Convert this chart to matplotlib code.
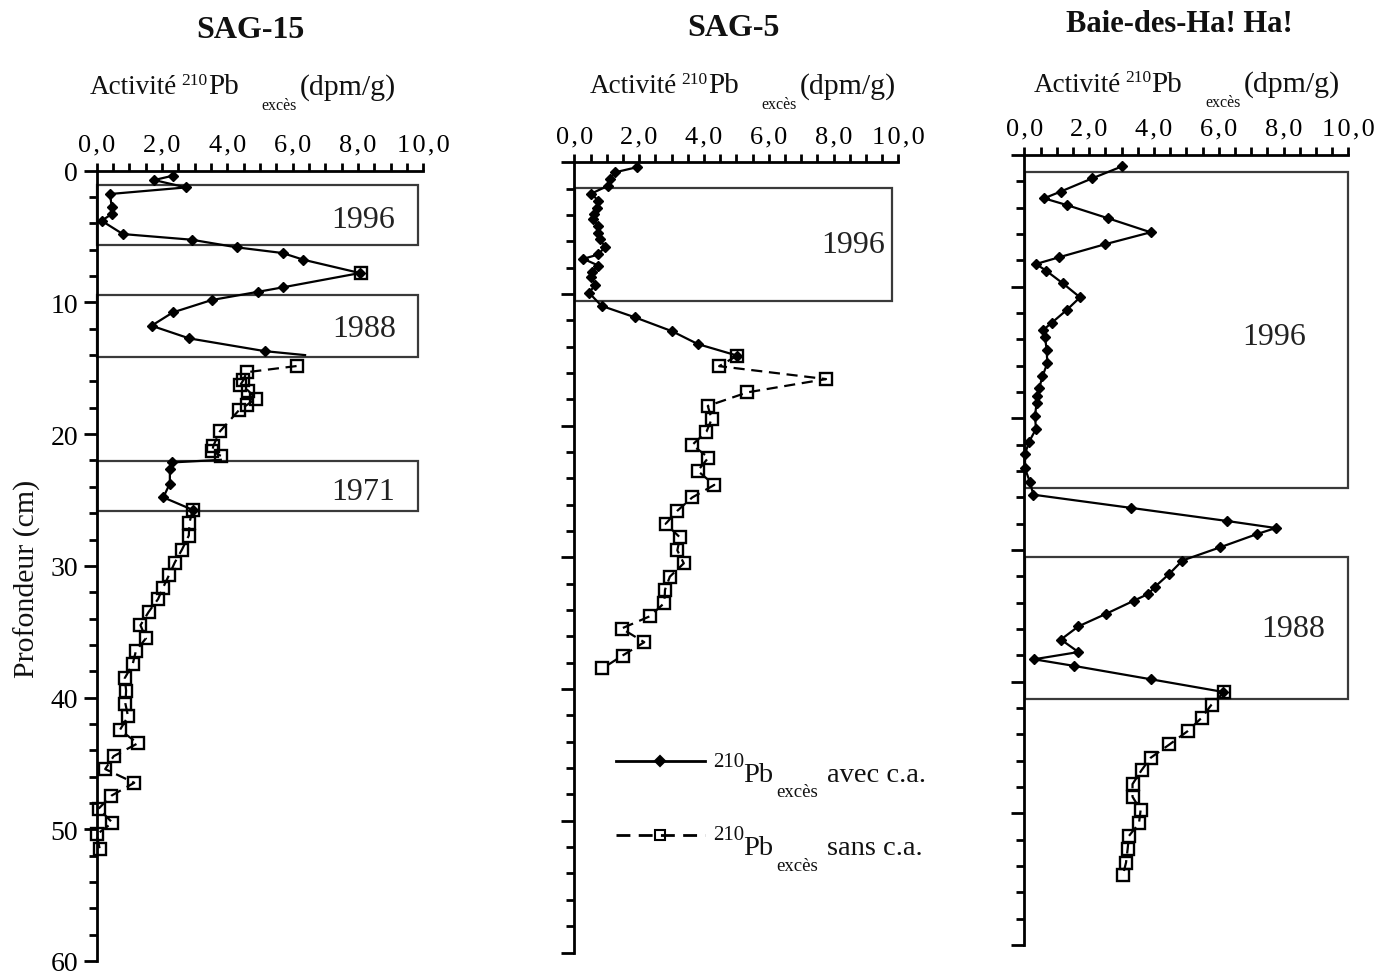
import numpy as np
import matplotlib
matplotlib.use("Agg")
import matplotlib.pyplot as plt
from matplotlib.patches import Rectangle
from matplotlib.lines import Line2D

plt.rcParams['font.family'] = ['Liberation Serif', 'DejaVu Serif']

# ---- SAG-15 ----
sag15_avec_depth = [0.38, 0.71, 1.27, 1.77, 2.78, 3.29, 3.8, 4.81, 5.24, 5.82, 6.25, 6.76, 7.77,
                    8.86, 9.19, 9.82, 10.76, 11.77, 12.73, 13.7, 14.0, np.nan,
                    21.95, 22.15, 22.66, 23.75, 24.8, 25.75]
sag15_avec_val = [2.33, 1.76, 2.73, 0.41, 0.46, 0.46, 0.15, 0.80, 2.91, 4.29, 5.69, 6.33, 8.06,
                  5.69, 4.95, 3.52, 2.33, 1.68, 2.83, 5.15, 6.38, np.nan,
                  3.8, 2.3, 2.24, 2.24, 2.04, 2.94]
sag15_avec_hidden = [20, 22]
sag15_sans_depth = [7.77, np.nan, 14.83, 15.3, 15.9, 16.3, 16.7, 17.3, 17.8, 18.2, 19.8, 20.9, 21.3, 21.65,
                    np.nan, 25.75, 26.72, 27.7, 28.77, 29.75, 30.73, 31.71, 32.52, 33.5, 34.51, 35.49,
                    36.47, 37.48, 38.52, 39.47, 40.48, 41.43, 42.46, 43.47, 44.45, 45.43, 46.47,
                    47.45, 48.43, 49.5, 50.39, 51.46]
sag15_sans_val = [8.09, np.nan, 6.12, 4.59, 4.49, 4.39, 4.64, 4.87, 4.59, 4.35, 3.77, 3.57, 3.54, 3.8,
                  np.nan, 2.94, 2.84, 2.82, 2.61, 2.39, 2.21, 2.02, 1.88, 1.59, 1.34, 1.51,
                  1.20, 1.10, 0.86, 0.90, 0.88, 0.96, 0.71, 1.26, 0.52, 0.26, 1.15,
                  0.45, 0.06, 0.48, 0.0, 0.09]
# (top, bottom, label, label depth, label x)
sag15_boxes = [(1.06, 5.65, '1996', 4.3, 9.13),
               (9.42, 14.13, '1988', 12.53, 9.18),
               (22.03, 25.82, '1971', 24.93, 9.13)]

# ---- SAG-5 ----
sag5_avec_depth = [0.38, 0.76, 1.27, 1.77, 2.37, 2.93, 3.44, 3.95, 4.33, 4.85, 5.35, 5.85, 6.41,
                   7.0, 7.33, 7.84, 8.3, 8.7, 9.29, 9.92, 10.9, 11.77, 12.84, 13.8, 14.68]
sag5_avec_val = [1.92, 1.26, 1.10, 1.05, 0.53, 0.74, 0.69, 0.62, 0.59, 0.74, 0.72, 0.79, 0.95,
                 0.74, 0.28, 0.74, 0.55, 0.53, 0.64, 0.46, 0.84, 1.87, 3.03, 3.81, 5.03]
sag5_sans_depth = [14.68, 15.48, 16.46, 17.47, 18.5, 19.5, 20.45, 21.46, 22.42, 23.43, 24.5, 25.45,
                   26.46, 27.45, 28.48, 29.47, 30.45, 31.46, 32.45, 33.46, 34.47, 35.4, 36.44,
                   37.45, 38.43]
sag5_sans_val = [5.03, 4.47, 7.77, 5.34, 4.12, 4.24, 4.08, 3.64, 4.14, 3.81, 4.32, 3.64,
                 3.18, 2.82, 3.26, 3.18, 3.38, 2.95, 2.80, 2.78, 2.33, 1.46, 2.16,
                 1.49, 0.87]
sag5_boxes = [(1.97, 10.5, '1996', 6.83, 9.59)]

# ---- Baie-des-Ha! Ha! ----
bhh_avec_depth = [0.86, 1.77, 2.78, 3.29, 3.8, 4.81, 5.87, 6.78, 7.77, 8.28, 8.78, 9.75, 10.81,
                  11.77, 12.76, 13.27, 13.85, 14.78, 15.82, 16.81, 17.72, 18.28, 18.84, 19.8,
                  20.81, 21.77, 22.71, 23.8, 24.81, 25.8, 26.8, 27.8, 28.33, 28.8, 29.8, 30.8,
                  31.8, 32.8, 33.33, 33.84, 34.85, 35.8, 36.8, 37.75, 38.3, 38.8, 39.82, 40.78]
bhh_avec_val = [3.02, 2.10, 1.12, 0.61, 1.31, 2.59, 3.90, 2.49, 1.07, 0.36, 0.67, 1.19, 1.72,
                1.31, 0.84, 0.59, 0.64, 0.69, 0.71, 0.56, 0.46, 0.38, 0.38, 0.33,
                0.36, 0.15, 0.02, 0.02, 0.17, 0.28, 3.29, 6.27, 7.76, 7.17, 6.04, 4.88,
                4.48, 4.03, 3.83, 3.39, 2.52, 1.67, 1.13, 1.67, 0.30, 1.53, 3.91, 6.14]
bhh_sans_depth = [40.78, 41.74, 42.75, 43.76, 44.77, 45.78, 46.72, 47.78, 48.74, 49.75, 50.76,
                  51.72, 52.7, 53.74, 54.72]
bhh_sans_val = [6.17, 5.78, 5.47, 5.04, 4.48, 3.90, 3.62, 3.34, 3.34, 3.59, 3.54,
                3.23, 3.19, 3.14, 3.04]
bhh_boxes = [(1.27, 25.3, '1996', 14.35, 8.69),
             (30.5, 41.34, '1988', 36.5, 9.28)]

x_ticks = [0, 2, 4, 6, 8, 10]
x_ticklabels = ['0,0', '2,0', '4,0', '6,0', '8,0', '10,0']

W, H = 1376, 979
fig = plt.figure(figsize=(W / 100, H / 100), dpi=100)


def px_axes(left, top, right, bottom):
    return fig.add_axes([left / W, 1 - bottom / H, (right - left) / W, (bottom - top) / H])


def style_axes(ax, ylabels):
    ax.set_xlim(0, 10)
    ax.set_ylim(60, 0)
    ax.patch.set_visible(False)
    for s in ('right', 'bottom'):
        ax.spines[s].set_visible(False)
    for s in ('left', 'top'):
        ax.spines[s].set_linewidth(2)
    ax.xaxis.tick_top()
    ax.set_xticks(x_ticks)
    ax.set_xticklabels(['\u200a'.join(t) for t in x_ticklabels])
    ax.set_xticks(np.arange(0, 10.01, 0.5), minor=True)
    ax.tick_params(axis='x', which='both', direction='out', length=6, width=2,
                   top=True, bottom=False, labeltop=True, labelbottom=False)
    ax.tick_params(axis='x', which='major', labelsize=19, pad=5)
    ax.set_yticks(np.arange(0, 61, 10))
    ax.set_yticks(np.arange(0, 61, 2), minor=True)
    ax.tick_params(axis='y', which='major', length=9.5, width=2, labelsize=20, pad=4,
                   labelleft=ylabels)
    ax.tick_params(axis='y', which='minor', length=6, width=2)


def draw_profile(ax, avec_d, avec_v, sans_d, sans_v, boxes, box_right, hidden=()):
    ax.plot(sans_v, sans_d, ls=(0, (5, 3)), color='black', lw=1.6, marker='s', ms=8,
            mfc='none', mec='black', mew=1.7, zorder=3, clip_on=False)
    marks = [i for i in range(len(avec_d)) if i not in hidden]
    ax.plot(avec_v, avec_d, '-', color='black', lw=1.6, marker='D', ms=5.6, mfc='black',
            mec='black', mew=1, markevery=marks, zorder=4, clip_on=False)
    for top, bottom, label, lab_y, lab_x in boxes:
        ax.add_patch(Rectangle((0.02, top), box_right - 0.02, bottom - top, fill=False,
                               ec='#3a3a3a', lw=1.6, zorder=2, clip_on=False))
        ax.text(lab_x, lab_y, label, ha='right', va='baseline', fontsize=23, color='#222222')


def header(x0, base):
    pieces = [('Activité', 0, 0, 19.5), ('210', 91.7, -9.3, 12.5), ('Pb', 118.3, 0, 21),
              ('excès', 171.7, 15.7, 11.5), ('(dpm/g)', 210, 0, 21.5)]
    for txt, dx, dy, size in pieces:
        fig.text((x0 + dx) / W, 1 - (base + dy) / H, txt, ha='left', va='baseline',
                 fontsize=size, color='#111111')


def title(xc, base, txt, size):
    fig.text(xc / W, 1 - base / H, txt, ha='center', va='baseline', fontsize=size,
             fontweight='bold', color='#111111')


ax1 = px_axes(96.7, 171.7, 423.3, 962)
style_axes(ax1, True)
draw_profile(ax1, sag15_avec_depth, sag15_avec_val, sag15_sans_depth, sag15_sans_val,
             sag15_boxes, 9.83, hidden=sag15_avec_hidden)

ax2 = px_axes(574.3, 163.3, 898.3, 953.5)
style_axes(ax2, False)
draw_profile(ax2, sag5_avec_depth, sag5_avec_val, sag5_sans_depth, sag5_sans_val,
             sag5_boxes, 9.82)

ax3 = px_axes(1024.3, 156, 1348.3, 946)
style_axes(ax3, False)
draw_profile(ax3, bhh_avec_depth, bhh_avec_val, bhh_sans_depth, bhh_sans_val,
             bhh_boxes, 10.0)

title(250, 38.3, 'SAG-15', 23)
title(733, 36, 'SAG-5', 23)
title(1179, 31.7, 'Baie-des-Ha! Ha!', 22)
header(90, 94.3)
header(590, 93.3)
header(1033.3, 91.7)

fig.text(27.5 / W, 1 - 579 / H, 'Profondeur (cm)', rotation=90, ha='center', va='center',
         fontsize=21.5, color='#111111')

# legend (key glyphs + composed labels)
for y, style, mk, ms, mfc, word in [(762.3, '-', 'D', 5.6, 'black', 'avec c.a.'),
                                     (836, (0, (5, 3)), 's', 6.5, 'none', 'sans c.a.')]:
    fig.add_artist(Line2D([616 / W, 705 / W], [1 - y / H, 1 - y / H], color='black', lw=2,
                          ls=style, transform=fig.transFigure))
    fig.add_artist(Line2D([660 / W], [1 - y / H], marker=mk, ms=ms, mfc=mfc, mec='black',
                          mew=1.5, ls='none', transform=fig.transFigure))
    fig.text(713 / W, 1 - (y + 4.4) / H, '210', fontsize=15, va='baseline', color='#111111')
    fig.text(742.7 / W, 1 - (y + 19.4) / H, 'Pb', fontsize=20.5, va='baseline', color='#111111')
    fig.text(776.7 / W, 1 - (y + 35.2) / H, 'excès', fontsize=13.5, va='baseline', color='#111111')
    fig.text(826.7 / W, 1 - (y + 19.4) / H, word, fontsize=20.5, va='baseline', color='#111111')

fig.savefig('out.png', dpi=100)
